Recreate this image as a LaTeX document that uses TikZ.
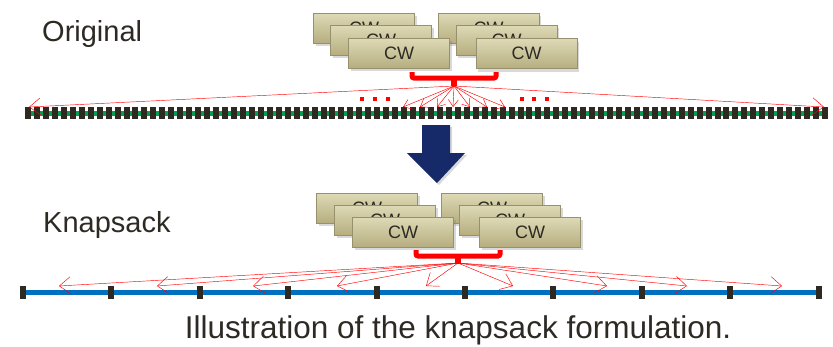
\documentclass[tikz,border=0pt]{standalone}
\usepackage{fontspec}
\setmainfont{Liberation Sans}
\usepackage{tikz}
\usetikzlibrary{arrows.meta,shadows}
\definecolor{khakitop}{RGB}{222,218,182}
\definecolor{khakibot}{RGB}{182,174,128}
\definecolor{khakiedge}{RGB}{150,144,108}
\definecolor{slot}{RGB}{46,42,34}
\definecolor{rail}{RGB}{0,160,80}
\definecolor{bluerail}{RGB}{0,112,192}
\definecolor{navy}{RGB}{22,42,105}
\definecolor{ink}{RGB}{45,42,36}

\begin{document}
\begin{tikzpicture}[x=1pt,y=-1pt,>={Straight Barb[length=11pt,width=17pt]},
  cwbox/.style={draw=khakiedge,line width=0.8pt,top color=khakitop,bottom color=khakibot,
    minimum width=101pt,minimum height=30pt,inner sep=0pt,text=ink,
    font=\fontsize{18}{18}\selectfont,
    drop shadow={opacity=0.3,shadow xshift=2pt,shadow yshift=-3pt}},
  lbl/.style={inner sep=0pt,text=ink,anchor=base west,font=\fontsize{29}{29}\selectfont},
  ray/.style={->,red,line width=0.45pt}]
  \useasboundingbox (0,0) rectangle (833,346);
  % labels
  \node[lbl] (orig) at (42,41) {Original};
  \node[lbl] (knap) at (43,232) {Knapsack};
  \node[lbl,anchor=base,font=\fontsize{31.5}{32}\selectfont] (cap) at (458,338.5) {Illustration of the knapsack formulation.};
  % codeword stacks, original
  \node[cwbox] (ob1) at (364,28) {CW}; \node[cwbox] (ob2) at (488.5,28) {CW};
  \node[cwbox] (om1) at (381,40) {CW}; \node[cwbox] (om2) at (506.5,40) {CW};
  \node[cwbox] (of1) at (399,53) {CW}; \node[cwbox] (of2) at (526.5,53.5) {CW};
  % codeword stacks, knapsack
  \node[cwbox] (kb1) at (367,208) {CW}; \node[cwbox] (kb2) at (492,208) {CW};
  \node[cwbox] (km1) at (385,220) {CW}; \node[cwbox] (km2) at (510,220) {CW};
  \node[cwbox] (kf1) at (403,232) {CW}; \node[cwbox] (kf2) at (530,232) {CW};
  % rails
  \draw[rail,line width=5pt] (25,113) -- (828,113);
  \foreach \i in {0,...,89} {\fill[slot] ({25+\i*8.955},107) rectangle ++(6,12);}
  \draw[bluerail,line width=5pt] (20,292) -- (822,292);
  \foreach \i in {0,...,9} {\fill[slot] ({20+\i*88.4},286) rectangle ++(6,13);}
  % brackets
  \draw[red,line width=5pt,rounded corners=2pt] (412,72) -- (412,78) -- (496,78) -- (496,72);
  \fill[red] (451,78) rectangle (457,86);
  \draw[red,line width=5pt,rounded corners=2pt] (416,250) -- (416,256) -- (500,256) -- (500,250);
  \fill[red] (455,256) rectangle (461,264);
  % rays, original
  \coordinate (osrc) at (454,86);
  \foreach \x [count=\k] in {403,420,437,453,470,487,505} {
    \coordinate (ot\k) at (\x,107); \draw[ray,>={Straight Barb[length=7pt,width=10pt]}] (osrc) -- (ot\k);}
  \coordinate (oL) at (29,107); \coordinate (oR) at (824,107);
  \draw[ray] (osrc) -- (oL); \draw[ray] (osrc) -- (oR);
  \foreach \x in {362,375,388,522,534,547} {\fill[red] (\x-1.7,97) rectangle ++(3.5,3.5);}
  % rays, knapsack
  \coordinate (ksrc) at (458,263);
  \foreach \x [count=\k] in {59,157,253,337,426,513,607,687,782} {
    \coordinate (kt\k) at (\x,286); \draw[ray] (ksrc) -- (kt\k);}
  % down arrow
  \fill[navy,drop shadow={opacity=0.3,shadow xshift=2pt,shadow yshift=-2pt}]
    (422,125) -- (450,125) -- (450,153) -- (465,153) -- (437,183) -- (407,153) -- (422,153) -- cycle;
\end{tikzpicture}
\end{document}
